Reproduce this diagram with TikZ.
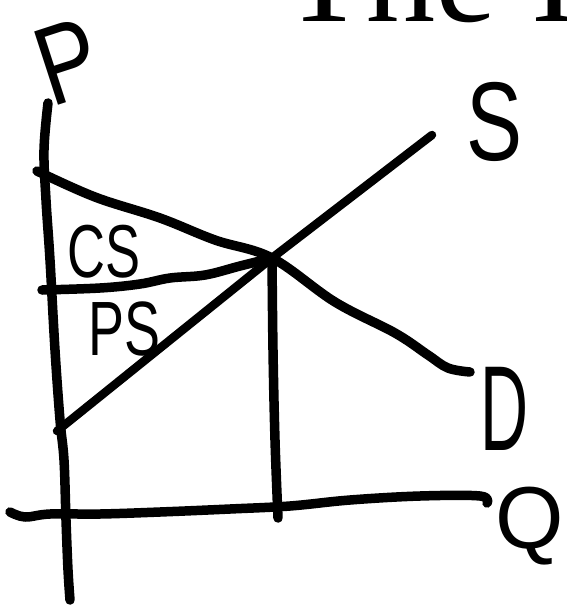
\documentclass[tikz,border=0pt]{standalone}
\usepackage{fontspec}
\setmainfont{Liberation Serif}
\newfontfamily\handfont{Liberation Sans}
\begin{document}
\begin{tikzpicture}[x=1pt,y=-1pt,
  hand/.style={line width=9.5pt,line cap=round,line join=round},
  lbl/.style={font=\handfont,inner sep=0pt,anchor=base}]
\useasboundingbox (0,0) rectangle (566,606);
\clip (0,0) rectangle (566,606);
\fill[white] (0,0) rectangle (566,606);
% title (cropped at the top edge, as in the reference)
\node[anchor=base west,inner sep=0pt,font=\fontsize{138}{140}\selectfont] (title) at (282,21) {The I};
% key points
\coordinate (E) at (272,258);
\coordinate (Ptop) at (48,103);
\coordinate (Pbot) at (70,600);
\coordinate (Qleft) at (10,512);
\coordinate (Qright) at (487,503);
\coordinate (Dtop) at (37,171);
\coordinate (Dend) at (470,372);
\coordinate (Sbot) at (57,431);
\coordinate (Stop) at (432,135);
\coordinate (PEq) at (42,290);
\coordinate (QEq) at (278,518);
% price axis
\draw[hand] plot[smooth,tension=0.6] coordinates {(Ptop) (44,150) (46,200) (50,260) (55,350) (60,420) (64,460) (66,520) (68,570) (Pbot)};
% quantity axis
\draw[hand] plot[smooth,tension=0.6] coordinates {(Qleft) (25,517) (50,514) (100,514) (160,512) (230,509) (290,506) (350,500) (420,496) (480,496) (Qright)};
% demand
\draw[hand] plot[smooth,tension=0.6] coordinates {(Dtop) (95,197) (160,218) (215,240) (E) (335,302) (395,333) (428,355) (448,368) (Dend)};
% equilibrium price line
\draw[hand] plot[smooth,tension=0.6] coordinates {(PEq) (100,288) (140,284) (170,278) (205,275) (240,266) (E)};
% supply
\draw[hand,line width=8.5pt] (Sbot) -- (62,427) -- (E) -- (Stop);
% equilibrium quantity line
\draw[hand] plot[smooth,tension=0.6] coordinates {(E) (273,350) (275,440) (QEq)};
% labels
\node[font=\handfont\fontsize{112}{114}\selectfont,inner sep=0pt,rotate=18,xscale=0.8] (lP) at (68,62) {P};
\node[lbl,font=\handfont\fontsize{112}{114}\selectfont,xscale=0.75] (lS) at (495,160) {S};
\node[lbl,font=\handfont\fontsize{121}{122}\selectfont,xscale=0.55] (lD) at (505,450) {D};
\node[lbl,font=\handfont\fontsize{88}{90}\selectfont] (lQ) at (530,548) {Q};
\node[lbl,font=\handfont\fontsize{75}{76}\selectfont,xscale=0.7] (lCS) at (104,277) {CS};
\node[lbl,font=\handfont\fontsize{77}{78}\selectfont,xscale=0.7] (lPS) at (124,355) {PS};
\end{tikzpicture}
\end{document}
